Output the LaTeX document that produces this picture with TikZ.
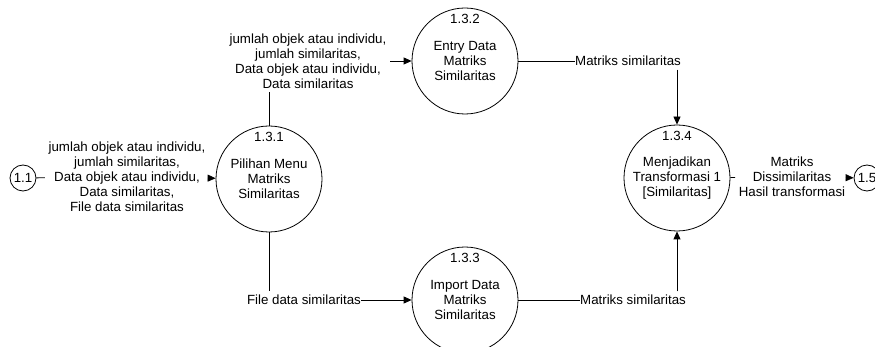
\documentclass[tikz,border=0pt]{standalone}
\usepackage{fontspec}
\setmainfont{Liberation Sans}
\usetikzlibrary{arrows.meta}

\begin{document}
\begin{tikzpicture}[x=1pt,y=-1pt,line width=0.8pt,
 every node/.style={font=\fontsize{13.3}{15}\selectfont,align=center},
 proc/.style={circle,draw,minimum size=106pt,inner sep=0pt},
 num/.style={anchor=north,yshift=-3pt},
 ext/.style={circle,draw,minimum size=26pt,inner sep=0pt},
 flow/.style={-{Triangle[length=8pt,width=7pt]}}]
\useasboundingbox (0,0) rectangle (875,347);
\node[ext] (e11) at (23,178) {1.1};
\node[ext] (e15) at (867,178) {1.5};
\node[proc,label={[num]north:1.3.1}] (p1) at (269,179) {Pilihan Menu\\Matriks\\Similaritas};
\node[proc,label={[num]north:1.3.2}] (p2) at (465,61) {Entry Data\\Matriks\\Similaritas};
\node[proc,label={[num]north:1.3.3}] (p3) at (465,300) {Import Data\\Matriks\\Similaritas};
\node[proc,label={[num]north:1.3.4}] (p4) at (677,178) {Menjadikan\\Transformasi 1\\{[Similaritas]}};
\node (lin) at (127,177) {jumlah objek atau individu,\\jumlah similaritas,\\Data objek atau individu,\\Data similaritas,\\File data similaritas};
\node (ltop) at (308,61) {jumlah objek atau individu,\\jumlah similaritas,\\Data objek atau individu,\\Data similaritas};
\node[inner xsep=0pt] (m2) at (628,61) {Matriks similaritas};
\node[inner xsep=0pt] (lfile) at (304,300) {File data similaritas};
\node[inner xsep=0pt] (m3) at (633,300) {Matriks similaritas};
\node (lout) at (792,177) {Matriks\\Dissimilaritas\\Hasil transformasi};
\draw (e11) -- (lin);
\draw[flow] (lin) -- (p1);
\draw (p1) -- (p1 |- ltop.south);
\draw[flow] (ltop) -- (p2);
\draw (p2) -- (m2);
\draw[flow] (m2.south -| p4) -- (p4);
\draw (p4) -- (lout);
\draw[flow] (lout) -- (e15);
\draw (p1) -- (p1 |- lfile.north);
\draw[flow] (lfile) -- (p3);
\draw (p3) -- (m3);
\draw[flow] (m3.north -| p4) -- (p4);
\end{tikzpicture}
\end{document}
